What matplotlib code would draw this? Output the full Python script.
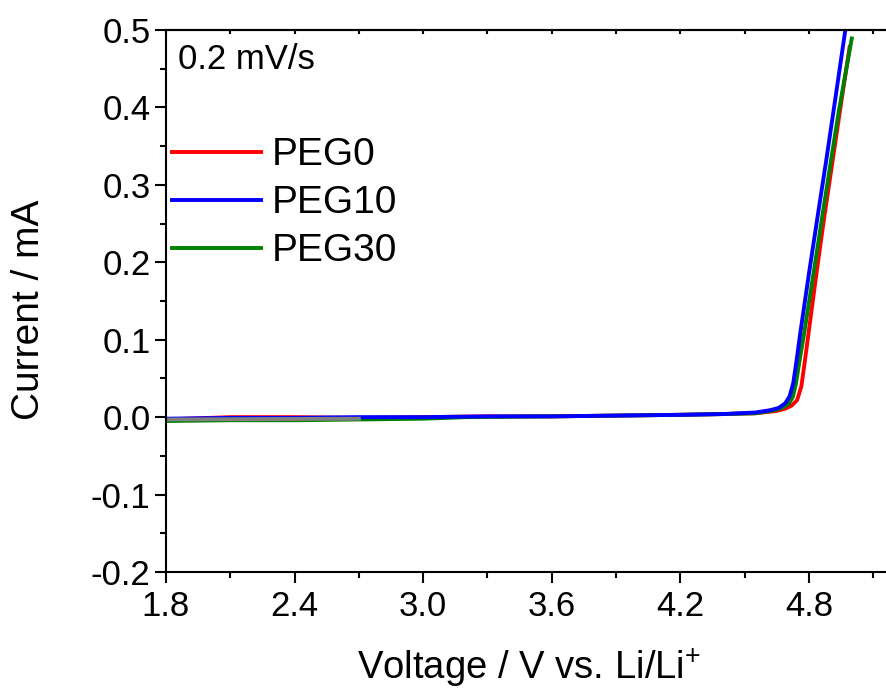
import matplotlib
matplotlib.use("Agg")
import matplotlib.pyplot as plt
from matplotlib.ticker import MultipleLocator, FormatStrFormatter

plt.rcParams['font.family'] = ['Liberation Sans', 'DejaVu Sans']
plt.rcParams['mathtext.fontset'] = 'custom'
plt.rcParams['mathtext.rm'] = 'Liberation Sans'
plt.rcParams['axes.unicode_minus'] = False

# Data (voltage in V, current in mA).
peg0_v = [1.8, 2.1, 2.4, 2.7, 3.0, 3.3, 3.6, 3.9, 4.2, 4.4, 4.55, 4.65, 4.69,
          4.72, 4.745, 4.765, 4.78, 4.80, 4.835, 4.87, 4.91, 4.95, 4.99]
peg0_i = [-0.003, 0.000, 0.000, -0.001, 0.000, 0.001, 0.001, 0.002, 0.003, 0.004,
          0.005, 0.008, 0.011, 0.015, 0.022, 0.040, 0.070, 0.112, 0.185, 0.255,
          0.330, 0.405, 0.478]

peg10_v = [1.8, 2.1, 2.4, 2.7, 3.0, 3.3, 3.6, 3.9, 4.2, 4.4, 4.55, 4.62, 4.66,
           4.69, 4.71, 4.727, 4.743, 4.76, 4.80, 4.84, 4.88, 4.92, 4.97]
peg10_i = [-0.002, -0.001, -0.001, 0.000, 0.000, 0.001, 0.001, 0.002, 0.003, 0.004,
           0.006, 0.009, 0.012, 0.018, 0.027, 0.044, 0.074, 0.109, 0.185, 0.258,
           0.330, 0.405, 0.500]

peg30_v = [1.8, 2.1, 2.4, 2.7, 3.0, 3.2, 3.6, 3.9, 4.2, 4.4, 4.55, 4.64, 4.675,
           4.705, 4.725, 4.74, 4.757, 4.78, 4.82, 4.86, 4.90, 4.94, 5.00]
peg30_i = [-0.005, -0.004, -0.004, -0.003, -0.002, 0.000, 0.001, 0.002, 0.003, 0.004,
           0.005, 0.009, 0.012, 0.017, 0.026, 0.044, 0.074, 0.112, 0.183, 0.255,
           0.326, 0.396, 0.489]

# short grey trace visible at the start of the sweep
grey_v = [1.8, 2.7]
grey_i = [-0.003, -0.002]

fig = plt.figure(figsize=(8.86, 6.90), dpi=100)
ax = fig.add_axes([166 / 886, 1 - 572 / 690, 720 / 886, 542 / 690])

ax.plot(peg0_v, peg0_i, color='#ff0000', lw=2.8, label='PEG0')
ax.plot(peg30_v, peg30_i, color='#008000', lw=2.8, label='PEG30')
ax.plot(peg10_v, peg10_i, color='#0000ff', lw=2.8, label='PEG10')
ax.plot(grey_v, grey_i, color='#808080', lw=2.8)

ax.set_xlim(1.8, 1.8 + 720 / 214.3)
ax.set_ylim(-0.2, 0.5)

ax.xaxis.set_major_locator(MultipleLocator(0.6))
ax.xaxis.set_minor_locator(MultipleLocator(0.3))
ax.yaxis.set_major_locator(MultipleLocator(0.1))
ax.yaxis.set_minor_locator(MultipleLocator(0.05))
ax.xaxis.set_major_formatter(FormatStrFormatter('%.1f'))
ax.yaxis.set_major_formatter(FormatStrFormatter('%.1f'))

ax.spines['right'].set_visible(False)
for side in ['left', 'bottom', 'top']:
    ax.spines[side].set_linewidth(1.5)

ax.tick_params(axis='both', which='major', direction='out', length=8, width=1.5,
               labelsize=25)
ax.tick_params(axis='both', which='minor', direction='out', length=4.5, width=1.5)
ax.tick_params(axis='x', which='major', pad=5)
ax.tick_params(axis='y', which='major', pad=3)
ax.tick_params(axis='x', which='both', top=False)
ax.tick_params(axis='y', which='both', right=False)

# small inward ticks along the top edge
top = ax.secondary_xaxis('top')
top.xaxis.set_major_locator(MultipleLocator(0.3))
top.tick_params(axis='x', direction='in', length=3, width=1.5, labeltop=False)
top.spines['top'].set_linewidth(1.5)

ax.set_xlabel('Voltage / V vs. Li/Li$^{\\mathrm{+}}$', fontsize=27.5)
ax.set_ylabel('Current / mA', fontsize=28)
ax.xaxis.set_label_coords(0.504, -0.137)
ax.yaxis.set_label_coords(-0.165, 0.483)

ax.text(0.017, 0.945, '0.2 mV/s', transform=ax.transAxes, fontsize=25,
        ha='left', va='center')

handles, labels = ax.get_legend_handles_labels()
order = [0, 2, 1]
leg = ax.legend([handles[k] for k in order], [labels[k] for k in order],
                loc='upper left', bbox_to_anchor=(0.008, 0.802), frameon=False,
                fontsize=28, handlelength=2.3, handletextpad=0.26,
                labelspacing=0.306, borderpad=0, borderaxespad=0)
for line in leg.get_lines():
    line.set_linewidth(2.8)

fig.savefig('out.png', dpi=100)
